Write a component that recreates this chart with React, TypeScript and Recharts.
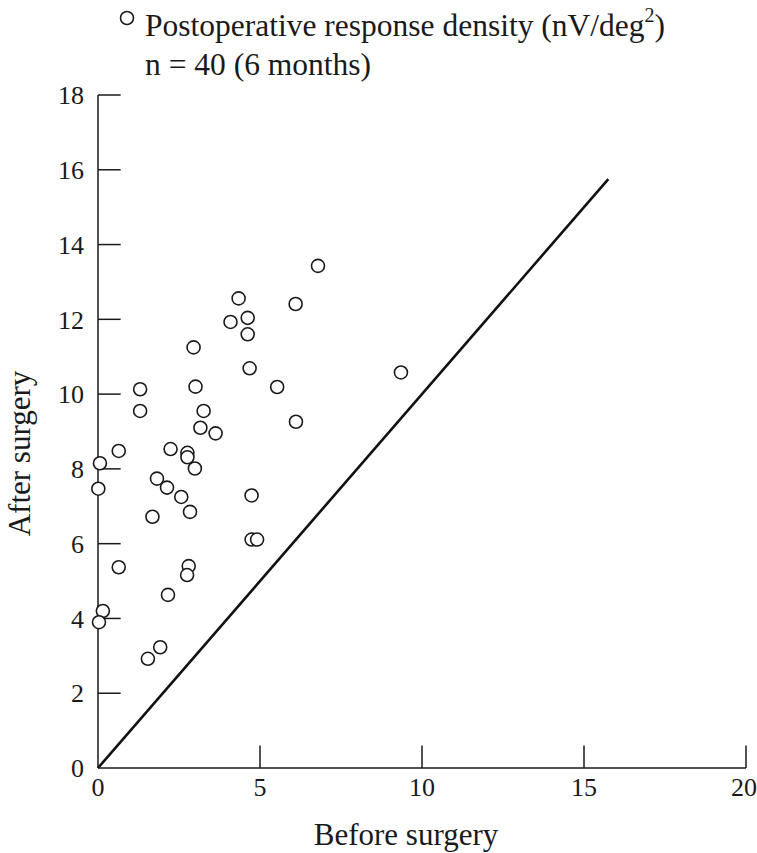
import React from 'react';
import {
  ScatterChart,
  Scatter,
  XAxis,
  YAxis,
  ReferenceLine,
  Label,
} from 'recharts';

// values (nV/deg^2)
const beforeSurgery = [
  6.79, 4.34, 6.1, 4.09, 4.62, 4.62, 2.95, 4.68, 1.3, 3.01,
  5.53, 1.3, 3.26, 3.16, 3.63, 6.11, 0.64, 2.24, 2.76, 2.76,
  2.99, 0.06, 0.01, 1.82, 2.13, 2.57, 2.84, 1.68, 4.74, 4.74,
  4.91, 0.64, 2.8, 2.75, 2.16, 0.15, 0.03, 1.92, 1.54, 9.35,
];
const afterSurgery = [
  13.43, 12.56, 12.41, 11.93, 12.04, 11.6, 11.25, 10.69, 10.13, 10.2,
  10.19, 9.55, 9.55, 9.1, 8.95, 9.26, 8.48, 8.53, 8.43, 8.31,
  8.01, 8.15, 7.47, 7.74, 7.5, 7.25, 6.85, 6.72, 7.29, 6.11,
  6.11, 5.37, 5.4, 5.16, 4.63, 4.2, 3.9, 3.23, 2.92, 10.58,
];
const xTicks = [0, 5, 10, 15, 20];
const yTicks = [0, 2, 4, 6, 8, 10, 12, 14, 16, 18];
const identityEnd = 15.75;

const points = beforeSurgery.map((x, i) => ({ x, y: afterSurgery[i] }));

const FONT = '"Liberation Serif", "Times New Roman", serif';
const INK = '#1a1a1a';

const OpenCircle = (props: any) => {
  const { cx, cy } = props;
  return <circle cx={cx} cy={cy} r={6.5} fill="#fff" stroke={INK} strokeWidth={1.6} />;
};

export default function App() {
  return (
    <div style={{ position: 'absolute', left: 0, top: 0, width: 757, height: 853, background: '#fff' }}>
      <ScatterChart width={757} height={853} margin={{ top: 95, right: 11, bottom: 0, left: 0 }}>
        <XAxis
          type="number"
          dataKey="x"
          domain={[0, 20]}
          ticks={xTicks}
          tickLine={false}
          tickSize={0}
          tickMargin={10}
          stroke={INK}
          strokeWidth={1.5}
          height={85}
          tick={{ fill: INK, fontSize: 26, fontFamily: FONT }}
        >
          <Label
            value="Before surgery"
            position="insideBottom"
            offset={8}
            dx={-16}
            style={{ fill: INK, fontSize: 31, fontFamily: FONT }}
          />
        </XAxis>
        <YAxis
          type="number"
          dataKey="y"
          domain={[0, 18]}
          ticks={yTicks}
          tickLine={false}
          tickSize={0}
          tickMargin={14}
          stroke={INK}
          strokeWidth={1.5}
          width={98}
          tick={{ fill: INK, fontSize: 26, fontFamily: FONT }}
        >
          <Label
            content={(p: any) => {
              const vb = p.viewBox;
              const bx = 30;
              const cy = vb.y + vb.height / 2 + 22;
              return (
                <text
                  x={bx}
                  y={cy}
                  transform={`rotate(-90, ${bx}, ${cy})`}
                  textAnchor="middle"
                  fill={INK}
                  fontSize={31}
                  fontFamily={FONT}
                >
                  After surgery
                </text>
              );
            }}
          />
        </YAxis>
        {yTicks.slice(1).map((t) => (
          <ReferenceLine
            key={`yt${t}`}
            segment={[{ x: 0, y: t }, { x: 0.7, y: t }]}
            stroke={INK}
            strokeWidth={1.5}
          />
        ))}
        {xTicks.slice(1).map((t) => (
          <ReferenceLine
            key={`xt${t}`}
            segment={[{ x: t, y: 0 }, { x: t, y: 0.6 }]}
            stroke={INK}
            strokeWidth={1.5}
          />
        ))}
        <ReferenceLine
          segment={[{ x: 0, y: 0 }, { x: identityEnd, y: identityEnd }]}
          stroke="#111"
          strokeWidth={2.6}
        />
        <Scatter data={points} shape={OpenCircle} isAnimationActive={false} />
      </ScatterChart>
      <svg
        width={757}
        height={90}
        style={{ position: 'absolute', left: 0, top: 0 }}
        fontFamily={FONT}
        fill={INK}
      >
        <circle cx={127} cy={18} r={6.5} fill="#fff" stroke={INK} strokeWidth={1.6} />
        <text x={145} y={36} fontSize={31.5}>
          Postoperative response density (nV/deg
          <tspan fontSize={20} dy={-14}>2</tspan>
          <tspan dy={14}>)</tspan>
        </text>
        <text x={145} y={75} fontSize={31.5}>
          n = 40 (6 months)
        </text>
      </svg>
    </div>
  );
}
